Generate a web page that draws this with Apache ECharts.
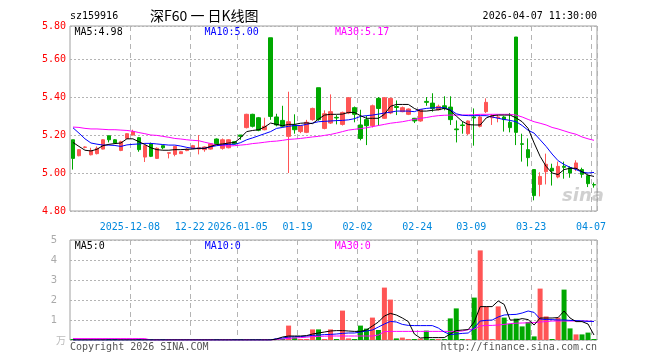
<!DOCTYPE html>
<html><head><meta charset="utf-8">
<script src="https://cdn.jsdelivr.net/npm/echarts@6/dist/echarts.min.js"></script>
<style>html,body{margin:0;padding:0;background:#fff}#c{width:660px;height:360px}</style>
</head><body><div id="c"></div>
<script>
const dates = [
'2025-11-24','2025-11-25','2025-11-26','2025-11-27','2025-11-28','2025-12-01','2025-12-02','2025-12-03','2025-12-04','2025-12-05',
'2025-12-08','2025-12-09','2025-12-10','2025-12-11','2025-12-12','2025-12-15','2025-12-16','2025-12-17','2025-12-18','2025-12-19',
'2025-12-22','2025-12-23','2025-12-24','2025-12-25','2025-12-26','2025-12-29','2025-12-30','2025-12-31','2026-01-05','2026-01-06',
'2026-01-07','2026-01-08','2026-01-09','2026-01-12','2026-01-13','2026-01-14','2026-01-15','2026-01-16','2026-01-19','2026-01-20',
'2026-01-21','2026-01-22','2026-01-23','2026-01-26','2026-01-27','2026-01-28','2026-01-29','2026-01-30','2026-02-02','2026-02-03',
'2026-02-04','2026-02-05','2026-02-06','2026-02-09','2026-02-10','2026-02-11','2026-02-12','2026-02-13','2026-02-24','2026-02-25',
'2026-02-26','2026-02-27','2026-03-02','2026-03-03','2026-03-04','2026-03-05','2026-03-06','2026-03-09','2026-03-10','2026-03-11',
'2026-03-12','2026-03-13','2026-03-16','2026-03-17','2026-03-18','2026-03-19','2026-03-20','2026-03-23','2026-03-24','2026-03-25',
'2026-03-26','2026-03-27','2026-03-30','2026-03-31','2026-04-01','2026-04-02','2026-04-03','2026-04-07'];

const tickDates = ['2025-12-08','2025-12-22','2026-01-05','2026-01-19','2026-02-02','2026-02-24','2026-03-09','2026-03-23','2026-04-07'];
const tickLabels = ['2025-12-08','12-22','2026-01-05','01-19','02-02','02-24','03-09','03-23','04-07'];

const openP = [5.175,5.091,5.135,5.096,5.102,5.126,5.196,5.175,5.119,5.182,
5.200,5.186,5.084,5.154,5.077,5.144,5.104,5.098,5.102,5.118,
5.130,5.126,5.123,5.126,5.179,5.130,5.133,5.165,5.200,5.239,
5.309,5.291,5.228,5.712,5.295,5.277,5.193,5.253,5.218,5.214,
5.281,5.449,5.235,5.263,5.293,5.256,5.316,5.344,5.253,5.281,
5.249,5.393,5.288,5.316,5.350,5.323,5.309,5.288,5.274,5.377,
5.368,5.333,5.354,5.347,5.232,5.253,5.207,5.295,5.246,5.323,
5.291,5.290,5.295,5.267,5.716,5.154,5.123,5.018,4.940,5.007,
5.025,4.979,5.035,5.028,5.021,5.018,4.986,4.939];
const closeP = [5.077,5.123,5.137,5.119,5.130,5.175,5.175,5.158,5.165,5.207,
5.218,5.123,5.144,5.088,5.130,5.133,5.107,5.140,5.112,5.125,
5.144,5.133,5.137,5.154,5.154,5.175,5.175,5.154,5.193,5.309,
5.246,5.225,5.246,5.298,5.253,5.246,5.270,5.228,5.248,5.267,
5.340,5.281,5.312,5.323,5.290,5.319,5.396,5.309,5.182,5.249,
5.354,5.340,5.396,5.393,5.345,5.344,5.337,5.274,5.333,5.372,
5.340,5.351,5.340,5.281,5.228,5.250,5.274,5.290,5.295,5.372,
5.302,5.295,5.281,5.239,5.214,5.151,5.081,4.881,4.982,5.046,
5.011,5.035,5.030,5.000,5.053,4.993,4.944,4.937];
const lowP = [5.018,5.088,5.130,5.093,5.098,5.124,5.161,5.155,5.115,5.180,
5.198,5.112,5.058,5.084,5.074,5.125,5.077,5.088,5.100,5.115,
5.128,5.098,5.112,5.123,5.150,5.123,5.130,5.150,5.175,5.235,
5.240,5.220,5.225,5.280,5.246,5.240,5.000,5.207,5.210,5.210,
5.275,5.275,5.230,5.258,5.256,5.250,5.310,5.267,5.172,5.147,
5.240,5.249,5.285,5.310,5.305,5.320,5.305,5.263,5.270,5.354,
5.323,5.330,5.330,5.253,5.161,5.207,5.200,5.144,5.240,5.316,
5.253,5.267,5.218,5.214,5.147,5.060,5.035,4.856,4.877,4.940,
4.934,4.972,4.970,4.975,5.010,4.975,4.926,4.923];
const highP = [5.175,5.126,5.140,5.133,5.140,5.178,5.197,5.178,5.170,5.210,
5.228,5.190,5.146,5.160,5.135,5.145,5.107,5.142,5.115,5.130,
5.148,5.200,5.140,5.158,5.182,5.182,5.178,5.168,5.200,5.312,
5.312,5.295,5.291,5.712,5.312,5.354,5.428,5.309,5.250,5.280,
5.344,5.449,5.330,5.414,5.305,5.323,5.400,5.350,5.333,5.302,
5.360,5.400,5.400,5.396,5.382,5.350,5.340,5.290,5.337,5.400,
5.420,5.360,5.404,5.404,5.277,5.270,5.277,5.340,5.300,5.393,
5.310,5.305,5.300,5.316,5.716,5.207,5.182,5.020,5.004,5.102,
5.049,5.060,5.060,5.035,5.067,5.028,4.990,4.950];

const ma5 = [5.161,5.140,5.120,5.116,5.125,5.144,5.151,5.155,5.158,5.180,
5.180,5.165,5.150,5.133,5.123,5.120,5.120,5.123,5.123,5.125,
5.126,5.130,5.130,5.140,5.150,5.153,5.158,5.161,5.186,5.218,
5.224,5.228,5.242,5.263,5.256,5.249,5.256,5.256,5.262,5.264,
5.260,5.284,5.305,5.309,5.309,5.310,5.319,5.319,5.302,5.288,
5.288,5.288,5.309,5.351,5.361,5.361,5.361,5.340,5.326,5.326,
5.330,5.333,5.340,5.330,5.300,5.272,5.255,5.253,5.253,5.290,
5.302,5.305,5.305,5.305,5.290,5.270,5.235,5.158,5.088,5.035,
5.000,4.992,5.018,5.025,5.025,5.007,4.989,4.982];
const ma10 = [5.238,5.210,5.180,5.158,5.152,5.147,5.147,5.145,5.140,5.148,
5.151,5.153,5.156,5.156,5.153,5.150,5.147,5.147,5.142,5.135,
5.130,5.130,5.130,5.138,5.144,5.148,5.151,5.151,5.160,5.175,
5.185,5.196,5.207,5.218,5.235,5.240,5.246,5.250,5.250,5.256,
5.263,5.270,5.272,5.274,5.276,5.277,5.280,5.286,5.298,5.302,
5.305,5.310,5.316,5.320,5.326,5.326,5.326,5.323,5.335,5.340,
5.343,5.344,5.344,5.333,5.312,5.304,5.302,5.302,5.302,5.302,
5.295,5.288,5.282,5.277,5.270,5.250,5.225,5.210,5.175,5.140,
5.100,5.065,5.045,5.030,5.018,5.005,5.000,5.003];
const ma30 = [5.242,5.240,5.235,5.232,5.232,5.230,5.228,5.228,5.226,5.224,
5.220,5.213,5.207,5.200,5.198,5.193,5.188,5.182,5.179,5.175,
5.172,5.170,5.162,5.155,5.148,5.144,5.142,5.144,5.147,5.150,
5.155,5.158,5.162,5.166,5.168,5.172,5.177,5.179,5.182,5.186,
5.190,5.193,5.198,5.203,5.210,5.218,5.226,5.230,5.234,5.238,
5.244,5.250,5.256,5.262,5.266,5.270,5.276,5.282,5.288,5.292,
5.298,5.302,5.304,5.305,5.305,5.305,5.306,5.307,5.309,5.309,
5.309,5.309,5.309,5.309,5.305,5.295,5.282,5.270,5.262,5.253,
5.240,5.232,5.222,5.212,5.204,5.190,5.180,5.172];

const vol = [0.05,0.05,0.05,0.05,0.05,0.05,0.05,0.05,0.05,0.05,
0.05,0.05,0.05,0.05,0.05,0.05,0.05,0.05,0.05,0.05,
0.05,0.05,0.05,0.05,0.05,0.05,0.05,0.05,0.05,0.05,
0.05,0.05,0.05,0.05,0.05,0.05,0.72,0.13,0.05,0.05,
0.53,0.53,0.05,0.53,0.05,1.47,0.08,0.05,0.72,0.57,
1.12,0.50,2.62,2.02,0.08,0.12,0.05,0.05,0.07,0.47,
0.05,0.05,0.05,1.08,1.58,0.05,0.05,2.12,4.48,1.66,
0.05,1.68,1.12,0.80,1.07,0.68,0.90,0.18,2.57,1.18,
0.05,1.12,2.52,0.58,0.28,0.28,0.37,0.05];
const volMa5 = [0,0,0,0,0,0,0,0,0,0,
0,0,0,0,0,0,0,0,0,0,
0,0,0,0,0,0,0,0,0,0,
0,0,0,0,0.05,0.15,0.20,0.20,0.20,0.22,
0.30,0.35,0.40,0.45,0.47,0.47,0.45,0.43,0.43,0.50,
0.70,0.90,1.20,1.33,1.25,1.10,0.92,0.30,0.10,0.12,
0.12,0.12,0.12,0.30,0.47,0.50,0.52,0.90,1.67,1.67,
1.67,1.95,1.78,1.00,1.00,1.07,1.02,0.75,1.10,1.10,
1.10,1.12,1.45,1.10,0.92,0.92,0.80,0.25];
const volMa10 = [0,0,0,0,0,0,0,0,0,0,
0,0,0,0,0,0,0,0,0,0,
0,0,0,0,0,0,0,0,0,0,
0,0,0,0,0.07,0.10,0.15,0.17,0.17,0.20,
0.23,0.25,0.27,0.28,0.30,0.33,0.35,0.35,0.40,0.45,
0.50,0.65,0.80,0.93,0.90,0.78,0.73,0.72,0.72,0.72,
0.72,0.60,0.40,0.27,0.30,0.33,0.35,0.60,0.95,0.98,
1.00,1.15,1.25,1.27,1.28,1.35,1.45,1.38,1.05,1.02,
1.02,1.00,1.00,0.98,0.97,0.95,0.93,0.93];
const volMa30 = [0.07,0.07,0.07,0.07,0.07,0.07,0.07,0.07,0.07,0.07,
0.07,0.07,0.07,0,0,0,0,0,0,0,
0,0,0,0,0,0,0,0,0,0,
0,0,0,0,0.03,0.05,0.08,0.10,0.12,0.14,
0.17,0.18,0.19,0.20,0.20,0.20,0.20,0.20,0.20,0.20,
0.20,0.25,0.42,0.43,0.43,0.43,0.43,0.43,0.43,0.43,
0.43,0.43,0.43,0.43,0.43,0.45,0.52,0.55,0.70,0.73,
0.73,0.75,0.78,0.82,0.84,0.85,0.86,0.87,0.90,0.92,
0.95,0.95,0.95,0.95,0.95,0.95,0.95,0.92];

const UP = '#ff5555', DOWN = '#00a800';
const MONO = '"DejaVu Sans Mono", monospace';
const tickIdx = tickDates.map(d => dates.indexOf(d));
const showTick = (i) => tickIdx.indexOf(i) >= 0;
const labelOf = (v) => { const k = tickDates.indexOf(v); return k >= 0 ? tickLabels[k] : ''; };

const chart = echarts.init(document.getElementById('c'), null, {renderer: 'canvas'});
const gridBorder = '#a0a0a0';
const dashLine = {show: true, interval: (i) => showTick(i), lineStyle: {color: '#b4b4b4', type: [5, 4], width: 1}};
const dotLine = {show: true, lineStyle: {color: '#b4b4b4', type: [2, 2], width: 1}};

const txt = (text, x, y, fill, font, align) => ({
  type: 'text', silent: true, z: 100,
  style: {text, x, y, fill, font, align: align || 'left', verticalAlign: 'middle'}
});

chart.setOption({
  animation: false,
  backgroundColor: '#fff',
  grid: [
    {left: 70, right: 63, top: 26, height: 185, show: true, borderColor: gridBorder, borderWidth: 1, containLabel: false},
    {left: 70, right: 63, top: 240, height: 100, show: true, borderColor: gridBorder, borderWidth: 1, containLabel: false}
  ],
  xAxis: [
    {type: 'category', gridIndex: 0, data: dates, boundaryGap: true,
     axisLine: {show: false}, axisTick: {show: false},
     axisLabel: {interval: (i) => showTick(i), formatter: labelOf, color: '#0088dd',
                 fontFamily: MONO, fontSize: 10, margin: 11, padding: [0, 6, 0, 0]},
     splitLine: dashLine},
    {type: 'category', gridIndex: 1, data: dates, boundaryGap: true,
     axisLine: {show: false}, axisTick: {show: false}, axisLabel: {show: false},
     splitLine: dashLine}
  ],
  yAxis: [
    {type: 'value', gridIndex: 0, min: 4.8, max: 5.774, interval: 0.2, scale: true,
     axisLine: {show: false}, axisTick: {show: false},
     axisLabel: {color: '#ff0000', fontFamily: MONO, fontSize: 10, margin: 4,
                 formatter: (v) => (v > 5.7 ? '5.80' : v.toFixed(2))},
     splitLine: dotLine},
    {type: 'value', gridIndex: 1, min: 0, max: 5, interval: 1,
     axisLine: {show: false}, axisTick: {show: false},
     axisLabel: {color: '#aaaaaa', fontFamily: '"DejaVu Sans", sans-serif', fontSize: 10, margin: 13,
                 formatter: (v) => (v === 0 ? '' : String(v))},
     splitLine: dotLine}
  ],
  series: [
    {type: 'candlestick', xAxisIndex: 0, yAxisIndex: 0, barWidth: 4,
     data: dates.map((d, i) => [openP[i], closeP[i], lowP[i], highP[i]]),
     itemStyle: {color: UP, color0: DOWN, borderColor: UP, borderColor0: DOWN, borderWidth: 1}, z: 2},
    {type: 'line', xAxisIndex: 0, yAxisIndex: 0, data: ma30, symbol: 'none', z: 3,
     lineStyle: {color: '#ff00ff', width: 1}},
    {type: 'line', xAxisIndex: 0, yAxisIndex: 0, data: ma10, symbol: 'none', z: 4,
     lineStyle: {color: '#0000ff', width: 1}},
    {type: 'line', xAxisIndex: 0, yAxisIndex: 0, data: ma5, symbol: 'none', z: 5,
     lineStyle: {color: '#000000', width: 1}},
    {type: 'bar', xAxisIndex: 1, yAxisIndex: 1, barWidth: 5, z: 2,
     data: vol.map((v, i) => ({value: v, itemStyle: {color: closeP[i] > openP[i] ? UP : DOWN}}))},
    {type: 'line', xAxisIndex: 1, yAxisIndex: 1, data: volMa30, symbol: 'none', z: 3,
     lineStyle: {color: '#ff00ff', width: 1}},
    {type: 'line', xAxisIndex: 1, yAxisIndex: 1, data: volMa10, symbol: 'none', z: 4,
     lineStyle: {color: '#0000ff', width: 1}},
    {type: 'line', xAxisIndex: 1, yAxisIndex: 1, data: volMa5, symbol: 'none', z: 5,
     lineStyle: {color: '#000000', width: 1}}
  ],
  graphic: [
    txt('sz159916', 70, 16.5, '#000', '10px ' + MONO),
    txt('深F60 一 日K线图', 150, 16, '#000', '14px "Noto Sans CJK SC"'),
    txt('2026-04-07 11:30:00', 597, 16.5, '#000', '10px ' + MONO, 'right'),
    txt('MA5:4.98', 74.5, 32.5, '#000', '10px ' + MONO),
    txt('MA10:5.00', 204.5, 32.5, '#0000ff', '10px ' + MONO),
    txt('MA30:5.17', 335, 32.5, '#ff00ff', '10px ' + MONO),
    txt('MA5:0', 74.7, 246, '#000', '10px ' + MONO),
    txt('MA10:0', 204.7, 246, '#0000ff', '10px ' + MONO),
    txt('MA30:0', 334.7, 246, '#ff00ff', '10px ' + MONO),
    txt('万', 56, 340, '#bbbbbb', '10px "Noto Sans CJK SC"'),
    txt('Copyright 2026 SINA.COM', 70, 347, '#555', '10px ' + MONO),
    txt('http://finance.sina.com.cn', 597, 347, '#555', '10px ' + MONO, 'right'),
    {type: 'text', silent: true, z: 1, style: {text: 'sina', x: 562, y: 196, fill: 'rgba(150,150,150,0.45)',
      font: 'italic bold 18px "DejaVu Sans"', align: 'left', verticalAlign: 'middle'}}
  ]
});
</script></body></html>
